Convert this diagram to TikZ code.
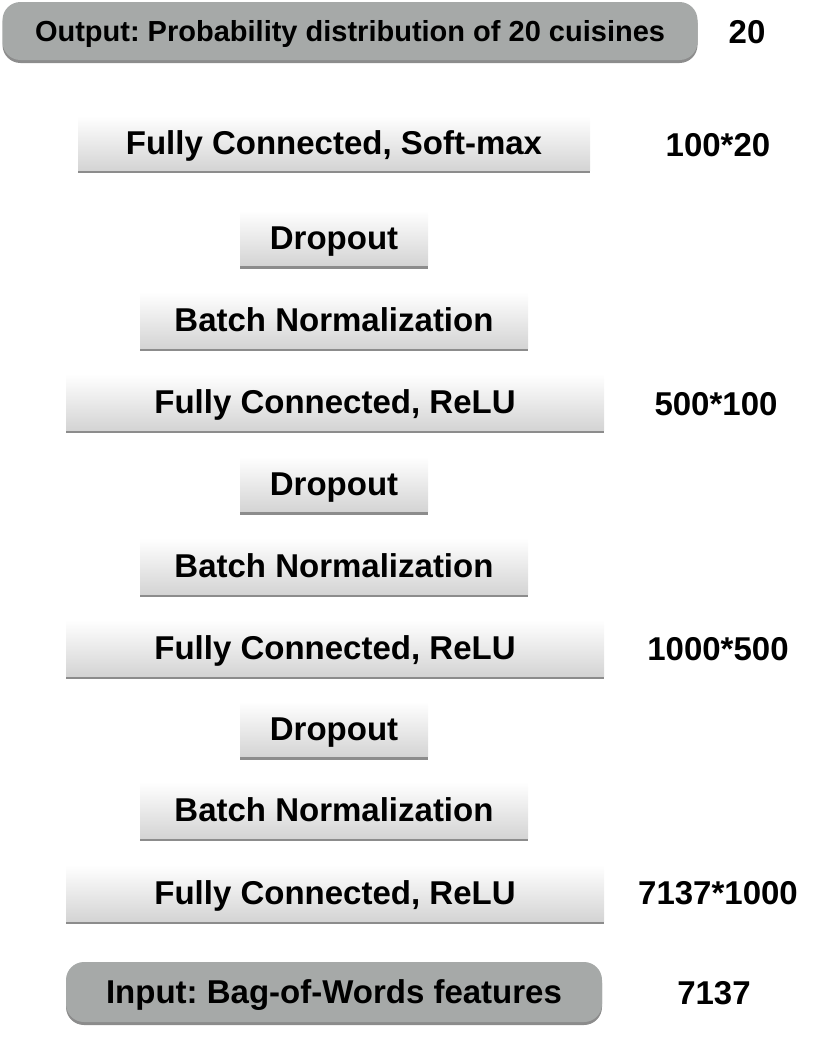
\documentclass[tikz,border=0pt]{standalone}
\usepackage{fontspec}
\setmainfont{Liberation Sans}
\frenchspacing
\usepackage{tikz}
\usetikzlibrary{shadows}
\definecolor{boxgray}{HTML}{A6A9A8}
\definecolor{boxlow}{HTML}{D4D4D4}

\begin{document}
\begin{tikzpicture}[x=1pt, y=-1pt,
    layer/.style={rectangle, inner sep=0pt, top color=white, bottom color=boxlow,
        text height=23.6pt, text depth=0pt,
        drop shadow={shadow xshift=0pt, shadow yshift=-3pt, opacity=0.45, fill=black},
        font=\fontsize{33}{38}\selectfont\bfseries},
    io/.style={rectangle, rounded corners=18pt, inner sep=0pt, fill=boxgray,
        text height=23.6pt, text depth=0pt,
        drop shadow={shadow xshift=0pt, shadow yshift=-3pt, opacity=0.45, fill=black},
        font=\fontsize{33}{38}\selectfont\bfseries},
    dims/.style={text height=23.6pt, text depth=0pt, font=\fontsize{33}{38}\selectfont\bfseries}]
    \useasboundingbox (0,0) rectangle (840,1044);
    % output and top layer
    \node[io, minimum width=695pt, minimum height=58pt, text height=20.8pt, font=\fontsize{29}{34}\selectfont\bfseries] (out) at (350,31) {Output: Probability distribution of 20 cuisines};
    \node[dims] (dout) at (747,32) {20};
    \node[layer, minimum width=512pt, minimum height=54pt] (fcsm) at (334,143) {Fully Connected, Soft-max};
    \node[dims] (dfcsm) at (718,145) {100*20};
    % hidden blocks
    \node[layer, minimum width=188pt, minimum height=55pt] (drop1) at (334,238) {Dropout};
    \node[layer, minimum width=388pt, minimum height=56pt] (bn1) at (334,320) {Batch Normalization};
    \node[layer, minimum width=538pt, minimum height=56pt] (fc1) at (335,402) {Fully Connected, ReLU};
    \node[dims] (dfc1) at (716,404) {500*100};
    \node[layer, minimum width=188pt, minimum height=55pt] (drop2) at (334,484) {Dropout};
    \node[layer, minimum width=388pt, minimum height=56pt] (bn2) at (334,566) {Batch Normalization};
    \node[layer, minimum width=538pt, minimum height=56pt] (fc2) at (335,648) {Fully Connected, ReLU};
    \node[dims] (dfc2) at (718,649) {1000*500};
    \node[layer, minimum width=188pt, minimum height=55pt] (drop3) at (334,729) {Dropout};
    \node[layer, minimum width=388pt, minimum height=56pt] (bn3) at (334,810) {Batch Normalization};
    \node[layer, minimum width=538pt, minimum height=56pt] (fc3) at (335,893) {Fully Connected, ReLU};
    \node[dims] (dfc3) at (718,893) {7137*1000};
    % input
    \node[io, minimum width=536pt, minimum height=60pt] (in) at (334,992) {Input: Bag-of-Words features};
    \node[dims] (din) at (714,993) {7137};
\end{tikzpicture}
\end{document}
